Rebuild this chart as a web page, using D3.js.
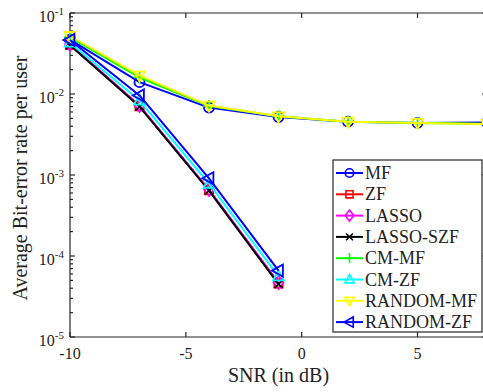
<!DOCTYPE html>
<html>
<head>
<meta charset="utf-8">
<script src="https://cdn.jsdelivr.net/npm/d3@7"></script>
<style>
  body { margin: 0; background: #fff; }
  text { font-family: "Liberation Serif", "Times New Roman", serif; fill: #222; }
</style>
</head>
<body>
<svg id="chart" width="483" height="392"></svg>
<script>
// SNR grid (dB) for the two receiver families
const snrMF = [-10, -7, -4, -1, 2, 5, 8];
const snrZF = [-10, -7, -4, -1];

// Average bit-error rate per user
const berMF       = [0.047, 0.0140, 0.0068, 0.0052, 0.00455, 0.0044, 0.00445];
const berZF       = [0.0405, 0.0071, 0.00065, 0.000046];
const berLASSO    = [0.0410, 0.0072, 0.00066, 0.000047];
const berLassoSZF = [0.0400, 0.0070, 0.00064, 0.000045];
const berCMMF     = [0.050, 0.0160, 0.0071, 0.0053, 0.00455, 0.0044, 0.0043];
const berCMZF     = [0.0430, 0.0083, 0.00078, 0.000056];
const berRandMF   = [0.052, 0.0170, 0.0072, 0.0053, 0.00455, 0.0044, 0.00425];
const berRandZF   = [0.0465, 0.0096, 0.00091, 0.000066];

const seriesNames  = ["MF", "ZF", "LASSO", "LASSO-SZF", "CM-MF", "CM-ZF", "RANDOM-MF", "RANDOM-ZF"];
const seriesColors = ["#0000ff", "#ff0000", "#ff00ff", "#000000", "#00ff00", "#00ffff", "#ffff00", "#0000ff"];
const seriesMarkers = ["circle", "square", "diamond", "x", "plus", "triUp", "triDown", "triLeft"];

const xTicks = [-10, -5, 0, 5];
const yTickExps = [-1, -2, -3, -4, -5];

const series = seriesNames.map((name, i) => ({
  name,
  color: seriesColors[i],
  marker: seriesMarkers[i],
  xs: name.endsWith("MF") ? snrMF : snrZF,
  ys: [berMF, berZF, berLASSO, berLassoSZF, berCMMF, berCMZF, berRandMF, berRandZF][i]
}));

const svg = d3.select("#chart");
const W = 483, H = 392;
svg.append("rect").attr("width", W).attr("height", H).attr("fill", "#fff");

const plot = { left: 70, right: 487, top: 13, bottom: 337 };
const x = d3.scaleLinear().domain([-10, 8]).range([plot.left, plot.right]);
const y = d3.scaleLog().domain([1e-5, 1e-1]).range([plot.bottom, plot.top]);

// marker path builders, s = half size
function markerPath(kind, s) {
  switch (kind) {
    case "circle":
      return `M${s},0A${s},${s} 0 1,1 ${-s},0A${s},${s} 0 1,1 ${s},0Z`;
    case "square":
      return `M${-s},${-s}H${s}V${s}H${-s}Z`;
    case "diamond":
      return `M0,${-s * 1.3}L${s},0L0,${s * 1.3}L${-s},0Z`;
    case "x":
      return `M${-s},${-s}L${s},${s}M${-s},${s}L${s},${-s}`;
    case "plus":
      return `M${-s * 1.2},0H${s * 1.2}M0,${-s * 1.2}V${s * 1.2}`;
    case "triUp":
      return `M0,${-s * 1.2}L${s * 1.1},${s * 0.8}L${-s * 1.1},${s * 0.8}Z`;
    case "triDown":
      return `M0,${s * 1.2}L${s * 1.1},${-s * 0.8}L${-s * 1.1},${-s * 0.8}Z`;
    case "triLeft":
      return `M${-s * 1.2},0L${s * 0.8},${-s * 1.1}L${s * 0.8},${s * 1.1}Z`;
  }
}
const markerSize = { circle: 5, square: 4.2, diamond: 5, x: 4, plus: 5, triUp: 5, triDown: 5, triLeft: 5.5 };

// axes frame
const frame = svg.append("g").attr("stroke", "#262626").attr("stroke-width", 1.2).attr("fill", "none");
frame.append("line").attr("x1", plot.left).attr("x2", plot.right).attr("y1", plot.top).attr("y2", plot.top);
frame.append("line").attr("x1", plot.left).attr("x2", plot.right).attr("y1", plot.bottom).attr("y2", plot.bottom);
frame.append("line").attr("x1", plot.left).attr("x2", plot.left).attr("y1", plot.top).attr("y2", plot.bottom);
frame.append("line").attr("x1", plot.right).attr("x2", plot.right).attr("y1", plot.top).attr("y2", plot.bottom);

// x ticks (inward, bottom and top)
xTicks.forEach(t => {
  const px = x(t);
  frame.append("line").attr("x1", px).attr("x2", px).attr("y1", plot.bottom).attr("y2", plot.bottom - 5);
  frame.append("line").attr("x1", px).attr("x2", px).attr("y1", plot.top).attr("y2", plot.top + 5);
  svg.append("text").attr("x", px).attr("y", 359).attr("text-anchor", "middle")
    .attr("font-size", 16).text(t);
});

// y ticks: decades plus minor ticks, on left and right
for (let e = -5; e <= -1; e++) {
  const py = y(Math.pow(10, e));
  frame.append("line").attr("x1", plot.left).attr("x2", plot.left + 5).attr("y1", py).attr("y2", py);
  frame.append("line").attr("x1", plot.right).attr("x2", plot.right - 5).attr("y1", py).attr("y2", py);
  if (e < -1) {
    for (let m = 2; m <= 9; m++) {
      const pm = y(m * Math.pow(10, e));
      frame.append("line").attr("x1", plot.left).attr("x2", plot.left + 3).attr("y1", pm).attr("y2", pm);
      frame.append("line").attr("x1", plot.right).attr("x2", plot.right - 3).attr("y1", pm).attr("y2", pm);
    }
  }
}
yTickExps.forEach(e => {
  const py = y(Math.pow(10, e));
  const t = svg.append("text").attr("x", 64).attr("y", py + 9).attr("text-anchor", "end").attr("font-size", 16);
  t.append("tspan").text("10");
  t.append("tspan").attr("font-size", 11).attr("dy", -7).text(e);
});

// axis titles
svg.append("text").attr("x", (plot.left + plot.right) / 2).attr("y", 382)
  .attr("text-anchor", "middle").attr("font-size", 20).text("SNR (in dB)");
svg.append("text").attr("transform", "translate(27,178) rotate(-90)")
  .attr("text-anchor", "middle").attr("font-size", 20).text("Average Bit-error rate per user");

// series lines and markers
const line = d3.line().x(d => x(d[0])).y(d => y(d[1]));
const gSeries = svg.append("g");
series.forEach(s => {
  const pts = s.xs.map((v, i) => [v, s.ys[i]]);
  const g = gSeries.append("g");
  g.append("path").attr("d", line(pts)).attr("fill", "none")
    .attr("stroke", s.color).attr("stroke-width", 2).attr("stroke-linejoin", "round");
  g.selectAll("path.mk").data(pts).join("path").attr("class", "mk")
    .attr("transform", d => `translate(${x(d[0])},${y(d[1])})`)
    .attr("d", markerPath(s.marker, markerSize[s.marker]))
    .attr("fill", "none").attr("stroke", s.color).attr("stroke-width", 1.8);
});

// legend
const leg = { x: 333, y: 160, w: 149, h: 172, row: 21.3 };
const gl = svg.append("g");
gl.append("rect").attr("x", leg.x).attr("y", leg.y).attr("width", leg.w).attr("height", leg.h)
  .attr("fill", "#fff").attr("stroke", "#262626").attr("stroke-width", 1.2);
series.forEach((s, i) => {
  const cy = leg.y + 13 + i * leg.row;
  gl.append("line").attr("x1", 336).attr("x2", 363).attr("y1", cy).attr("y2", cy)
    .attr("stroke", s.color).attr("stroke-width", 2);
  gl.append("path").attr("transform", `translate(349.5,${cy})`)
    .attr("d", markerPath(s.marker, markerSize[s.marker] * 0.85))
    .attr("fill", "none").attr("stroke", s.color).attr("stroke-width", 1.6);
  gl.append("text").attr("x", 365).attr("y", cy + 6).attr("font-size", 18).text(s.name);
});
</script>
</body>
</html>
